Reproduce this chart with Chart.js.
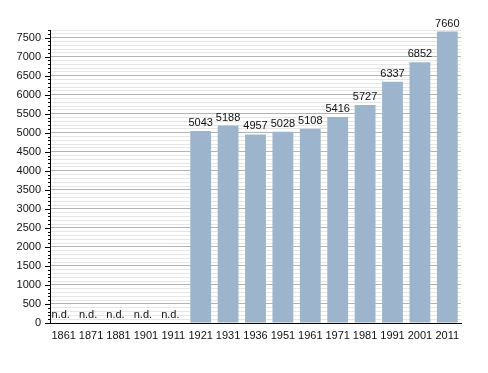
<!DOCTYPE html>
<html><head><meta charset="utf-8">
<script src="https://cdn.jsdelivr.net/npm/chart.js@4"></script>
<style>html,body{margin:0;padding:0;background:#fff}#w{width:488px;height:373px}</style>
</head><body><div id="w"><canvas id="c"></canvas></div>
<script>
const categories = ["1861","1871","1881","1901","1911","1921","1931","1936","1951","1961","1971","1981","1991","2001","2011"];
const population = [null,null,null,null,null,5043,5188,4957,5028,5108,5416,5727,6337,6852,7660];
const yMax = 7700;
const yStep = 100;
const yLabelStep = 500;

const FONT = "'Liberation Sans', Arial, sans-serif";

const labelPlugin = {
  id: 'labels',
  afterDatasetsDraw(chart) {
    const ctx = chart.ctx;
    const meta = chart.getDatasetMeta(0);
    const yS = chart.scales.y;
    ctx.save();
    ctx.font = "11px " + FONT;
    ctx.fillStyle = "#111";
    ctx.textAlign = "center";
    meta.data.forEach((bar, i) => {
      const v = population[i];
      if (v == null) {
        ctx.textBaseline = "alphabetic";
        ctx.fillText("n.d.", bar.x - 3, yS.getPixelForValue(0) - 5);
      } else {
        ctx.textBaseline = "alphabetic";
        ctx.fillText(String(v), bar.x, bar.y - 5);
      }
    });
    ctx.restore();
  },
  afterDraw(chart) {
    const ctx = chart.ctx;
    const yS = chart.scales.y;
    const x0 = chart.chartArea.left;
    ctx.save();
    ctx.strokeStyle = "#000";
    ctx.lineWidth = 1;
    yS.ticks.forEach(t => {
      const y = Math.round(yS.getPixelForValue(t.value)) + 0.5;
      const len = (t.value % yLabelStep === 0) ? 5 : 2;
      ctx.beginPath();
      ctx.moveTo(x0 - len, y);
      ctx.lineTo(x0, y);
      ctx.stroke();
    });
    ctx.restore();
  }
};

new Chart(document.getElementById('c'), {
  type: 'bar',
  data: {
    labels: categories,
    datasets: [{
      data: population,
      backgroundColor: '#9db4cd',
      borderWidth: 0,
      barPercentage: 0.76,
      categoryPercentage: 1.0
    }]
  },
  options: {
    responsive: true,
    maintainAspectRatio: false,
    animation: false,
    layout: { padding: { left: 0, right: 27, top: 30, bottom: 28 } },
    plugins: { legend: { display: false }, tooltip: { enabled: false } },
    scales: {
      x: {
        grid: { display: false, drawTicks: false },
        border: { display: true, color: '#000', width: 1 },
        ticks: { color: '#111', font: { family: FONT, size: 11 }, padding: 6, maxRotation: 0, autoSkip: false },
        afterFit(s) { s.height = 22; }
      },
      y: {
        min: 0, max: yMax,
        grid: {
          drawTicks: false,
          color: ctx => (ctx.tick && ctx.tick.value % yLabelStep === 0) ? '#b4b4b4' : '#e6e6e6',
          lineWidth: 1
        },
        border: { display: true, color: '#000', width: 1 },
        ticks: {
          stepSize: yStep, autoSkip: false, padding: 9,
          color: '#111', font: { family: FONT, size: 11 },
          callback: v => (v % yLabelStep === 0) ? String(v) : ''
        },
        afterFit(s) { s.width = 50; }
      }
    }
  },
  plugins: [labelPlugin]
});
</script>
</body></html>
